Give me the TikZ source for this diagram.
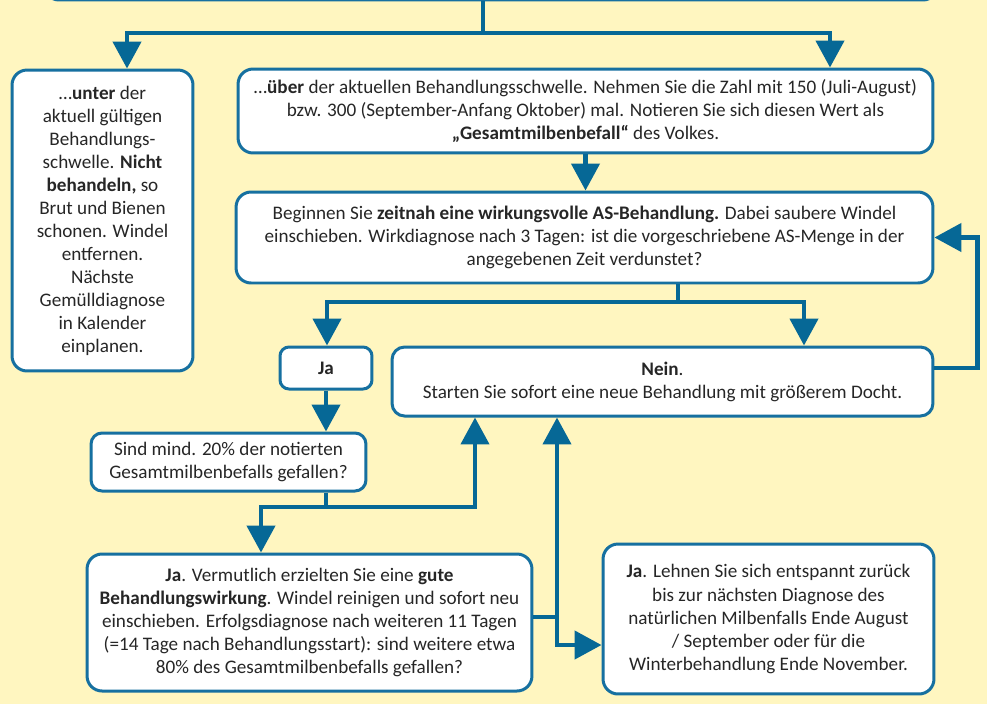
\documentclass[tikz,border=0pt]{standalone}
\usepackage{fontspec}
\setmainfont{Carlito}
\usetikzlibrary{calc,arrows.meta}

\definecolor{bgyellow}{RGB}{255,246,192}
\definecolor{flowblue}{RGB}{6,104,150}
\definecolor{boxblue}{RGB}{22,112,160}
\definecolor{textgrey}{RGB}{38,38,38}

\tikzset{
	box/.style={draw=boxblue, line width=0.06cm, fill=white, rounded corners=0.3cm,
		align=center, inner sep=0pt, text=textgrey, font=\fontsize{10.9}{13.1}\selectfont},
	line/.style={draw=flowblue, line width=0.09cm},
	flow/.style={line, -{Triangle[width=0.56cm,length=0.54cm]}}
}

\begin{document}
\begin{tikzpicture}[x=0.02cm, y=-0.02cm]
					\useasboundingbox (0,0) rectangle (987,704);
					\clip (0,0) rectangle (987,704);
					\fill[bgyellow] (0,0) rectangle (987,704);

					% the boxes
					\node[box, minimum width=17.88cm, minimum height=1.2cm] (T) at (491,-30) {};
					\node[box, minimum width=3.62cm, minimum height=6.02cm] (U) at (102.5,220.5)
					{…\textbf{unter} der\\ aktuell gültigen\\ Behandlungs-\\ schwelle. \textbf{Nicht}\\
					\textbf{behandeln,} so\\ Brut und Bienen\\ schonen. Windel\\ entfernen.\\
					Nächste\\ Gemülldiagnose\\ in Kalender\\ einplanen.};
					\node[box, minimum width=13.9cm, minimum height=1.68cm] (O) at (585.5,111)
					{…\textbf{über} der aktuellen Behandlungsschwelle. Nehmen Sie die Zahl mit 150 (Juli-August)\\
					bzw. 300 (September-Anfang Oktober) mal. Notieren Sie sich diesen Wert als\\
					\textbf{„Gesamtmilbenbefall“} des Volkes.};
					\node[box, minimum width=13.94cm, minimum height=1.82cm] (B) at (584.5,237.5)
					{Beginnen Sie \textbf{zeitnah eine wirkungsvolle AS-Behandlung.} Dabei saubere Windel\\
					einschieben. Wirkdiagnose nach 3 Tagen: ist die vorgeschriebene AS-Menge in der\\
					angegebenen Zeit verdunstet?};
					\node[box, rounded corners=0.18cm, minimum width=1.84cm, minimum height=0.84cm] (J) at (326,368)
					{\textbf{Ja}};
					\node[box, rounded corners=0.25cm, minimum width=10.82cm, minimum height=1.38cm] (N) at (662.5,381.5)
					{\textbf{Nein}.\\ Starten Sie sofort eine neue Behandlung mit größerem Docht.};
					\node[box, rounded corners=0.22cm, minimum width=5.5cm, minimum height=1.16cm] (S) at (228.5,462)
					{Sind mind. 20\% der notierten\\ Gesamtmilbenbefalls gefallen?};
					\node[box, minimum width=8.9cm, minimum height=2.74cm] (G) at (309.5,622.5)
					{\textbf{Ja}. Vermutlich erzielten Sie eine \textbf{gute}\\
					\textbf{Behandlungswirkung}. Windel reinigen und sofort neu\\
					einschieben. Erfolgsdiagnose nach weiteren 11 Tagen\\
					(=14 Tage nach Behandlungsstart): sind weitere etwa\\
					80\% des Gesamtmilbenbefalls gefallen?};
					\node[box, minimum width=6.62cm, minimum height=3cm] (E) at (768.5,619)
					{\textbf{Ja}. Lehnen Sie sich entspannt zurück\\ bis zur nächsten Diagnose des\\
					natürlichen Milbenfalls Ende August\\ / September oder für die\\
					Winterbehandlung Ende November.};

					% branch points
					\coordinate (T0) at (483,33);
					\coordinate (T1) at (127,33);
					\coordinate (T2) at (830,33);
					\coordinate (B0) at (678,302);
					\coordinate (B1) at (327,302);
					\coordinate (B2) at (804,302);
					\coordinate (S0) at (326,507);
					\coordinate (S1) at (261,507);
					\coordinate (S2) at (475,507);
					\coordinate (G0) at (557,617);
					\coordinate (G1) at (557,645);

					\draw[line] (T.south -| T0) -- (T0);
					\draw[flow] (T0) -- (T1) -- (T1 |- U.north);
					\draw[flow] (T0) -- (T2) -- (T2 |- O.north);

					\draw[flow] (O.south) -- (O.south |- B.north);

					\draw[line] (B.south -| B0) -- (B0);
					\draw[flow] (B0) -- (B1) -- (B1 |- J.north);
					\draw[flow] (B0) -- (B2) -- (B2 |- N.north);

					% Nein back to the treatment
					\draw[flow] ([yshift=0.27cm]N.east) -- ++(43,0) |- (B.east);

					\draw[flow] (J.south) -- (J.south |- S.north);

					\draw[line] (S.south -| S0) -- (S0);
					\draw[flow] (S0) -- (S1) -- (S1 |- G.north);
					\draw[flow] (S0) -- (S2) -- (S2 |- N.south);

					\draw[line] (G0 -| G.east) -- (G0);
					\draw[flow] (G0) -- (G0 |- N.south);
					\draw[flow] (G0) -- (G1) -- (G1 -| E.west);
\end{tikzpicture}
\end{document}
